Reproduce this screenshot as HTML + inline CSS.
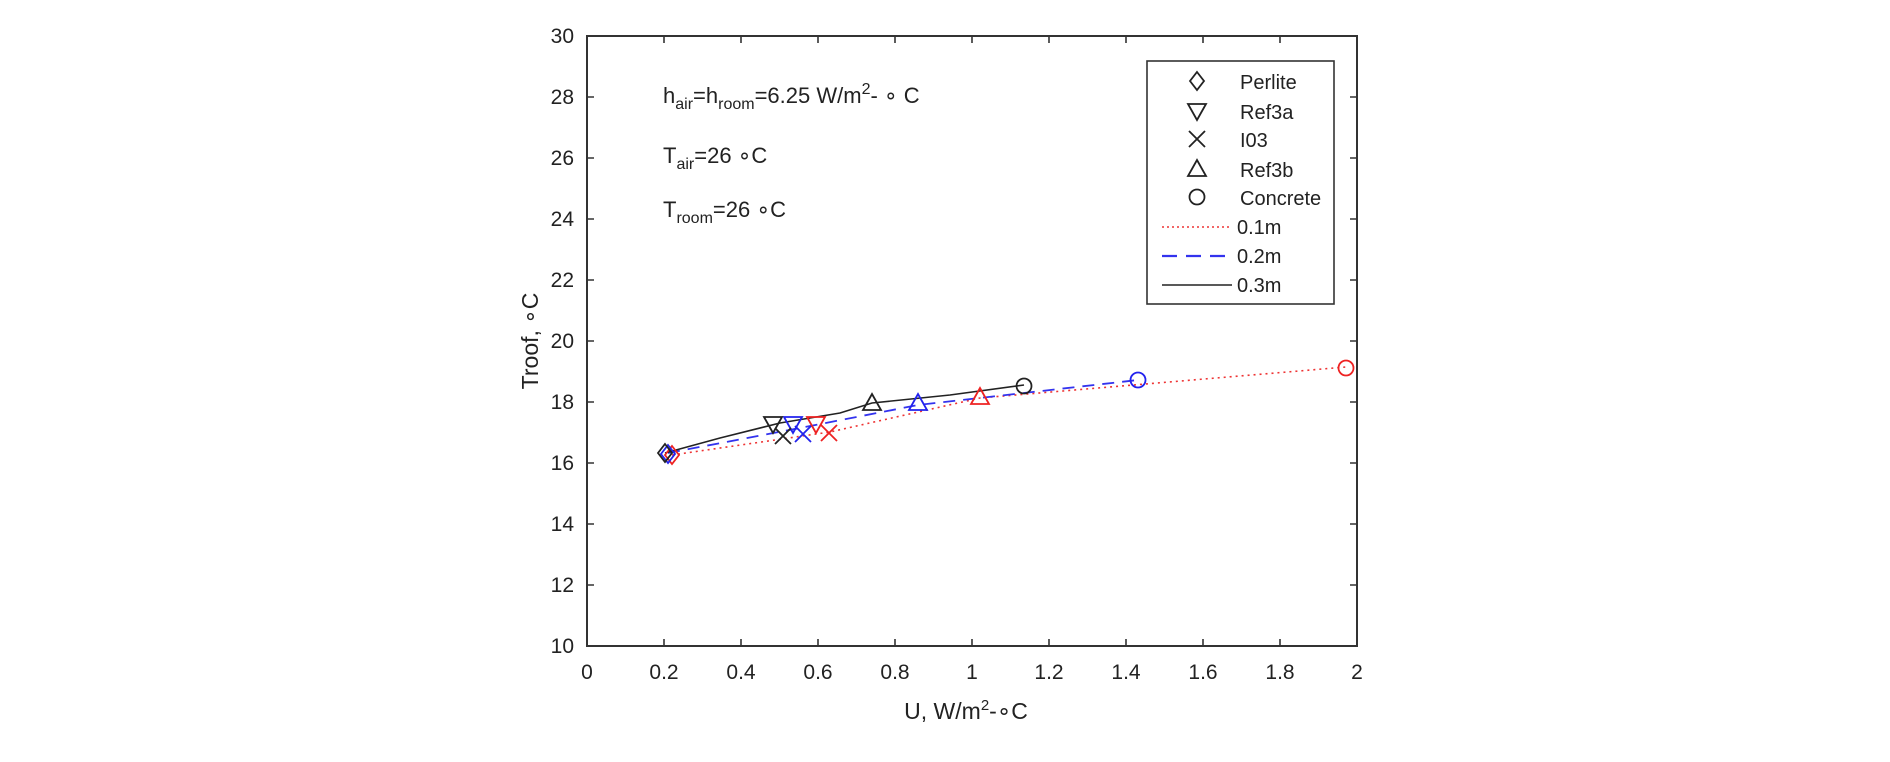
<!DOCTYPE html>
<html><head><style>body{margin:0;background:#fff}svg{display:block}text{font-family:"Liberation Sans",Arial,sans-serif;fill:#222}</style></head>
<body>
<svg width="1890" height="762" viewBox="0 0 1890 762" xmlns="http://www.w3.org/2000/svg">
<defs>
<g id="dia"><path d="M0,-9 L7,0 L0,9 L-7,0 Z" fill="none" stroke-width="1.8"/></g>
<g id="tdn"><path d="M-9,-7 L9,-7 L0,9 Z" fill="none" stroke-width="1.8"/></g>
<g id="tup"><path d="M-9,7 L9,7 L0,-9 Z" fill="none" stroke-width="1.8"/></g>
<g id="x"><path d="M-8,-8 L8,8 M-8,8 L8,-8" fill="none" stroke-width="1.8"/></g>
<g id="o"><circle r="7.5" fill="none" stroke-width="1.8"/></g>
</defs>
<rect x="587" y="36" width="770" height="610" fill="none" stroke="#333" stroke-width="2"/>
<g stroke="#333" stroke-width="1.6">
<path d="M664,646v-7M741,646v-7M818,646v-7M895,646v-7M972,646v-7M1049,646v-7M1126,646v-7M1203,646v-7M1280,646v-7"/>
<path d="M664,36v7M741,36v7M818,36v7M895,36v7M972,36v7M1049,36v7M1126,36v7M1203,36v7M1280,36v7"/>
<path d="M587,585h7M587,524h7M587,463h7M587,402h7M587,341h7M587,280h7M587,219h7M587,158h7M587,97h7"/>
<path d="M1357,585h-7M1357,524h-7M1357,463h-7M1357,402h-7M1357,341h-7M1357,280h-7M1357,219h-7M1357,158h-7M1357,97h-7"/>
</g>
<g font-size="21" text-anchor="end">
<text x="574" y="653">10</text><text x="574" y="592">12</text><text x="574" y="531">14</text><text x="574" y="470">16</text><text x="574" y="409">18</text><text x="574" y="348">20</text><text x="574" y="287">22</text><text x="574" y="226">24</text><text x="574" y="165">26</text><text x="574" y="104">28</text><text x="574" y="43">30</text>
</g>
<g font-size="21" text-anchor="middle">
<text x="587" y="679">0</text><text x="664" y="679">0.2</text><text x="741" y="679">0.4</text><text x="818" y="679">0.6</text><text x="895" y="679">0.8</text><text x="972" y="679">1</text><text x="1049" y="679">1.2</text><text x="1126" y="679">1.4</text><text x="1203" y="679">1.6</text><text x="1280" y="679">1.8</text><text x="1357" y="679">2</text>
</g>
<text x="966" y="719" font-size="23" text-anchor="middle">U, W/m<tspan font-size="15" dy="-9">2</tspan><tspan dy="9">-∘C</tspan></text>
<text transform="translate(538,341) rotate(-90)" font-size="23" text-anchor="middle">Troof, ∘C</text>
<text x="663" y="103" font-size="22">h<tspan font-size="16" dy="6">air</tspan><tspan dy="-6">=h</tspan><tspan font-size="16" dy="6">room</tspan><tspan dy="-6">=6.25 W/m</tspan><tspan font-size="16" dy="-9">2</tspan><tspan dy="9">- ∘ C</tspan></text>
<text x="663" y="163" font-size="22">T<tspan font-size="16" dy="6">air</tspan><tspan dy="-6">=26  ∘C</tspan></text>
<text x="663" y="217" font-size="22">T<tspan font-size="16" dy="6">room</tspan><tspan dy="-6">=26  ∘C</tspan></text>
<polyline points="672,455 830,432 980,398 1346,367" fill="none" stroke="#e33" stroke-width="1.6" stroke-dasharray="2,4"/>
<polyline points="668,453 800,428 918,405 1138,380" fill="none" stroke="#33e" stroke-width="1.8" stroke-dasharray="12,8"/>
<polyline points="665,453 720,438 780,423 840,413 872,403 950,395 1024,385" fill="none" stroke="#222" stroke-width="1.6"/>
<g stroke="#e22"><use href="#dia" x="672" y="455"/><use href="#tdn" x="816" y="424"/><use href="#x" x="829" y="433"/><use href="#tup" x="980" y="397"/><use href="#o" x="1346" y="368"/></g>
<g stroke="#22e"><use href="#dia" x="668" y="454"/><use href="#tdn" x="793" y="424"/><use href="#x" x="803" y="434"/><use href="#tup" x="918" y="403"/><use href="#o" x="1138" y="380"/></g>
<g stroke="#222"><use href="#dia" x="665" y="453"/><use href="#tdn" x="773" y="424"/><use href="#x" x="783" y="436"/><use href="#tup" x="872" y="403"/><use href="#o" x="1024" y="386"/></g>
<rect x="1147" y="61" width="187" height="243" fill="#fff" stroke="#333" stroke-width="1.6"/>
<g stroke="#222"><use href="#dia" x="1197" y="81"/><use href="#tdn" x="1197" y="111"/><use href="#x" x="1197" y="139"/><use href="#tup" x="1197" y="169"/><use href="#o" x="1197" y="197"/></g>
<line x1="1162" y1="227" x2="1232" y2="227" stroke="#e33" stroke-width="1.5" stroke-dasharray="2,3"/>
<line x1="1162" y1="256" x2="1232" y2="256" stroke="#33e" stroke-width="2.2" stroke-dasharray="15,9"/>
<line x1="1162" y1="285" x2="1232" y2="285" stroke="#222" stroke-width="1.5"/>
<g font-size="20">
<text x="1240" y="89">Perlite</text><text x="1240" y="119">Ref3a</text><text x="1240" y="147">I03</text><text x="1240" y="177">Ref3b</text><text x="1240" y="205">Concrete</text><text x="1237" y="234">0.1m</text><text x="1237" y="263">0.2m</text><text x="1237" y="292">0.3m</text>
</g>
</svg>
</body></html>
